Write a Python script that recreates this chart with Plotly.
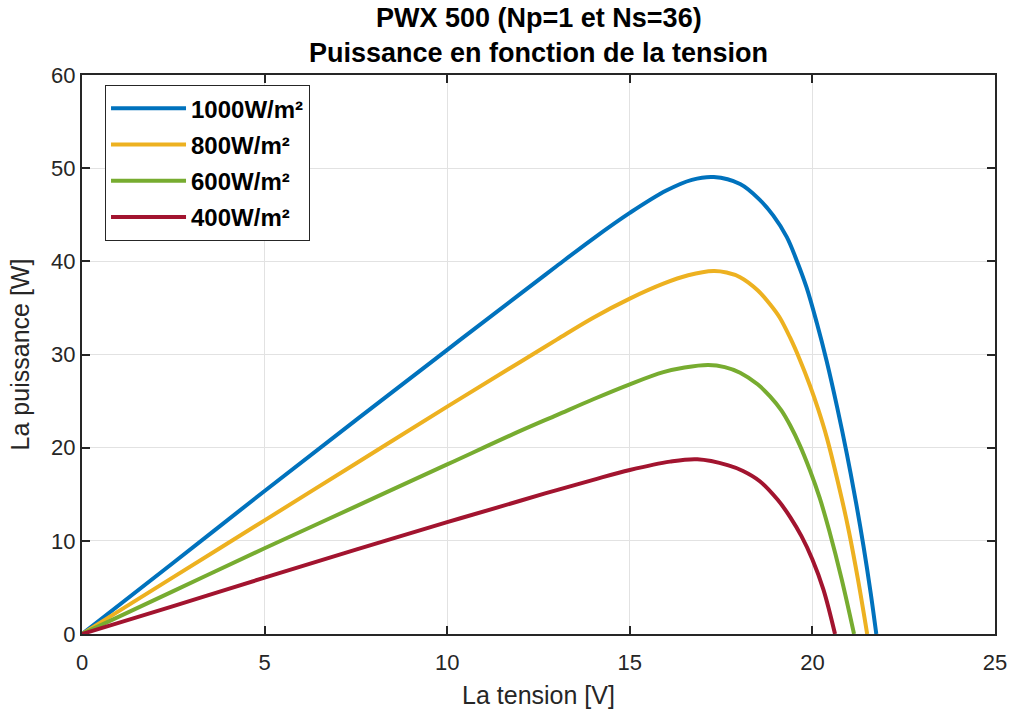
import plotly.graph_objects as go

# Data
v_1000 = [0, 2.5, 5, 7.5, 10, 12, 13, 14, 15, 16, 16.7, 17.3, 18.02, 18.56, 18.93, 19.3, 19.57, 19.84, 20.12, 20.39, 20.68, 20.95, 21.2, 21.4, 21.6, 21.75]
p_1000 = [0, 7.65, 15.35, 22.95, 30.5, 36.5, 39.5, 42.45, 45.2, 47.6, 48.75, 49.05, 48.3, 46.6, 44.9, 42.6, 40.1, 37.2, 33.4, 29.3, 24.3, 19.2, 14.0, 9.4, 4.3, 0]

v_800 = [0, 2.5, 5, 7.5, 10, 12, 13, 14, 15, 15.92, 16.6, 17.29, 17.65, 18.02, 18.5, 18.84, 19.1, 19.39, 19.65, 19.93, 20.16, 20.4, 20.8, 21.0, 21.25, 21.5]
p_800 = [0, 6.1, 12.2, 18.3, 24.4, 29.2, 31.6, 33.95, 36.0, 37.6, 38.5, 38.96, 38.8, 38.3, 36.9, 35.4, 34.0, 31.8, 29.5, 26.7, 24.1, 21.0, 14.6, 11.0, 5.8, 0]

v_600 = [0, 2.5, 5, 7.5, 10, 12, 13, 14, 15, 15.92, 16.5, 17.15, 17.6, 18.02, 18.5, 18.84, 19.15, 19.39, 19.65, 19.93, 20.2, 20.46, 20.8, 21.14]
p_600 = [0, 4.6, 9.2, 13.7, 18.2, 21.8, 23.5, 25.2, 26.8, 28.1, 28.6, 28.87, 28.65, 28.05, 26.8, 25.5, 24.0, 22.4, 20.3, 17.6, 14.6, 11.1, 5.9, 0]

v_400 = [0, 2.5, 5, 7.5, 10, 12, 13, 14, 15, 16.1, 16.85, 17.7, 18.1, 18.56, 19.05, 19.4, 19.7, 20.0, 20.3, 20.62]
p_400 = [0, 3.0, 6.05, 9.05, 12.0, 14.3, 15.45, 16.55, 17.6, 18.5, 18.75, 18.1, 17.5, 16.4, 14.4, 12.5, 10.5, 8.0, 4.8, 0]

series = [
    ("1000W/m²", v_1000, p_1000, "#0072BD"),
    ("800W/m²", v_800, p_800, "#EDB120"),
    ("600W/m²", v_600, p_600, "#77AC30"),
    ("400W/m²", v_400, p_400, "#A2142F"),
]

x_ticks = [0, 5, 10, 15, 20, 25]
y_ticks = [0, 10, 20, 30, 40, 50, 60]

title_line1 = "PWX 500 (Np=1 et Ns=36)"
title_line2 = "Puissance en fonction de la tension"

FONT = "Liberation Sans, Arial, sans-serif"
AX = "#262626"

fig = go.Figure()
for i, (name, v, p, c) in enumerate(series):
    fig.add_trace(go.Scatter(
        x=v, y=p, name=name, mode="lines",
        line=dict(color=c, width=4, shape="spline", smoothing=1.0),
        legendgroup=f"g{i}",
    ))

axis_common = dict(
    showgrid=True, gridcolor="#e2e2e2", gridwidth=1,
    showline=True, linecolor=AX, linewidth=2, mirror="ticks",
    ticks="inside", ticklen=8, tickwidth=1.5, tickcolor=AX,
    tickfont=dict(family=FONT, size=22, color=AX),
    zeroline=False, automargin=False,
)

fig.update_layout(
    width=1013, height=713,
    margin=dict(l=82, r=18, t=75, b=79),
    paper_bgcolor="white", plot_bgcolor="white",
    xaxis=dict(
        range=[0, 25], tickvals=x_ticks, ticktext=[str(t) for t in x_ticks],
        title=dict(text="La tension [V]", font=dict(family=FONT, size=25, color=AX), standoff=12),
        ticklabelstandoff=8,
        **axis_common,
    ),
    yaxis=dict(
        range=[0, 60], tickvals=y_ticks, ticktext=[str(t) for t in y_ticks],
        title=dict(text="La puissance [W]", font=dict(family=FONT, size=25, color=AX), standoff=14),
        ticklabelstandoff=0,
        **axis_common,
    ),
    legend=dict(
        x=0.025, y=0.982, xanchor="left", yanchor="top",
        bgcolor="white", bordercolor=AX, borderwidth=1.2,
        font=dict(family=FONT, size=24, color="black", weight="bold"),
        tracegroupgap=2, itemwidth=75,
    ),
    showlegend=True,
    annotations=[
        dict(text=f"<b>{title_line1}</b>", xref="paper", yref="paper", x=0.5, y=1.102,
             xanchor="center", yanchor="middle", showarrow=False,
             font=dict(family=FONT, size=27, color="black")),
        dict(text=f"<b>{title_line2}</b>", xref="paper", yref="paper", x=0.5, y=1.0394,
             xanchor="center", yanchor="middle", showarrow=False,
             font=dict(family=FONT, size=27, color="black")),
    ],
)

# remove the default 8px page margin so the figure fills the window exactly
fig.write_html(
    "out.html",
    config={"displayModeBar": False},
    post_script="document.body.style.margin='0';document.body.style.overflow='hidden';",
)
